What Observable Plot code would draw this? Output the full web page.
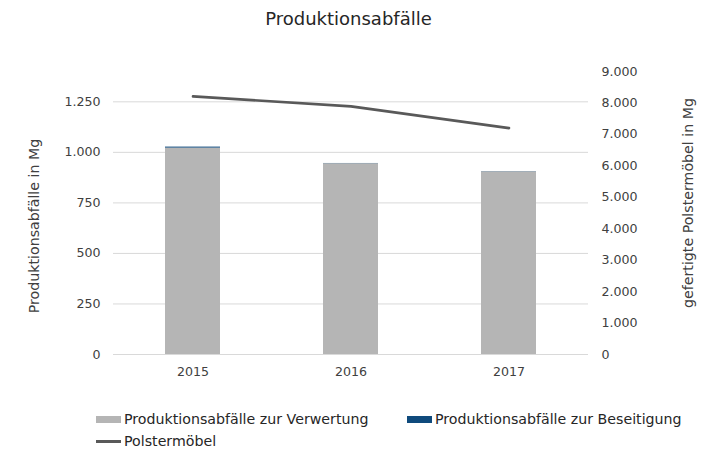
<!DOCTYPE html>
<html><head><meta charset="utf-8">
<script src="https://cdn.jsdelivr.net/npm/d3@7"></script>
<script src="https://cdn.jsdelivr.net/npm/@observablehq/plot@0.6"></script>
<style>
body{margin:0;background:#fff;font-family:"DejaVu Sans",Verdana,sans-serif;color:#404040;}
#wrap{position:relative;width:722px;height:458px;overflow:hidden;}
#title{position:absolute;top:8px;left:0;width:697px;text-align:center;font-size:18px;color:#262626;}
#chart{position:absolute;top:40px;left:0;}
.ytitle{position:absolute;font-size:14.2px;color:#404040;white-space:nowrap;transform-origin:center center;}
.leg{position:absolute;font-size:14.2px;line-height:17px;color:#262626;white-space:nowrap;display:flex;align-items:center;}
.sw{display:inline-block;width:25px;height:7px;margin-right:3px;}
.ln{display:inline-block;width:25px;height:3px;margin-right:3px;}
</style></head>
<body>
<div id="wrap">
<div id="title">Produktionsabfälle</div>
<div id="chart"></div>
<div class="ytitle" id="yl">Produktionsabfälle in Mg</div>
<div class="ytitle" id="yr">gefertigte Polstermöbel in Mg</div>
<div class="leg" style="left:96px;top:411px;"><span class="sw" style="background:#b5b5b5"></span>Produktionsabfälle zur Verwertung</div>
<div class="leg" style="left:407px;top:411px;"><span class="sw" style="background:#0f4a7c"></span>Produktionsabfälle zur Beseitigung</div>
<div class="leg" style="left:96px;top:433px;"><span class="ln" style="background:#595959"></span>Polstermöbel</div>
</div>
<script>
const years = ["2015", "2016", "2017"];
const verwertung = [1021, 944, 904];
const beseitigung = [5, 1, 1];
const polstermoebel = [8210, 7890, 7200];
const leftTicks = [0, 250, 500, 750, 1000, 1250];
const rightTicks = [0, 1000, 2000, 3000, 4000, 5000, 6000, 7000, 8000, 9000];
const leftMax = 1400, rightMax = 9000;

const loc = d3.formatLocale({decimal: ",", thousands: ".", grouping: [3], currency: ["", " €"]});
const fmt = loc.format(",d");
const toLeft = v => v * leftMax / rightMax;

const bars = [];
years.forEach((y, i) => {
  bars.push({year: y, type: "Verwertung", value: verwertung[i]});
  bars.push({year: y, type: "Beseitigung", value: beseitigung[i]});
});
const line = years.map((y, i) => ({year: y, value: toLeft(polstermoebel[i])}));

const chart = Plot.plot({
  width: 722, height: 360,
  marginTop: 31, marginBottom: 46, marginLeft: 113, marginRight: 134,
  style: {fontFamily: '"DejaVu Sans", Verdana, sans-serif', fontSize: "12.6px", color: "#404040", background: "#fff"},
  x: {domain: years, paddingInner: 0.65, paddingOuter: 0.325, axis: null},
  y: {domain: [0, leftMax], axis: null},
  color: {domain: ["Verwertung", "Beseitigung"], range: ["#b5b5b5", "#0f4a7c"]},
  marks: [
    Plot.ruleY(leftTicks, {stroke: "#d9d9d9", strokeWidth: 1}),
    Plot.barY(bars, {x: "year", y: "value", fill: "type", order: ["Verwertung", "Beseitigung"]}),
    Plot.line(line, {x: "year", y: "value", stroke: "#595959", strokeWidth: 2.6}),
    Plot.axisY(leftTicks, {anchor: "left", tickSize: 0, tickPadding: 13, tickFormat: fmt, label: null}),
    Plot.axisY(rightTicks.map(toLeft), {anchor: "right", tickSize: 0, tickPadding: 13, tickFormat: d => fmt(Math.round(d * rightMax / leftMax)), label: null}),
    Plot.axisX({anchor: "bottom", tickSize: 0, tickPadding: 13, label: null})
  ]
});
document.getElementById("chart").appendChild(chart);

function placeTitle(id, cx, cy) {
  const el = document.getElementById(id);
  const w = el.offsetWidth, h = el.offsetHeight;
  el.style.left = (cx - w / 2) + "px";
  el.style.top = (cy - h / 2) + "px";
  el.style.transform = "rotate(-90deg)";
}
placeTitle("yl", 34, 226);
placeTitle("yr", 688, 203);
</script>
</body></html>
